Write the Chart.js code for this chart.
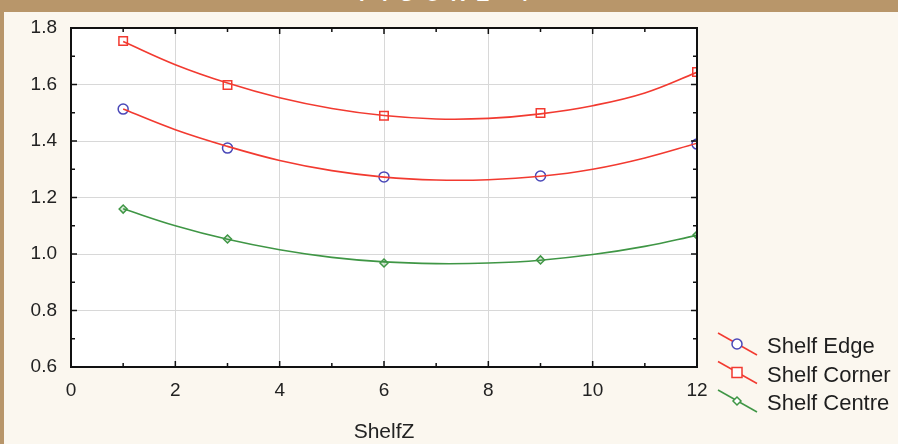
<!DOCTYPE html>
<html><head><meta charset="utf-8">
<script src="https://cdn.jsdelivr.net/npm/chart.js@4.4.0/dist/chart.umd.min.js"></script>
<style>
html,body{margin:0;padding:0;background:#FBF7EF;}
#wrap{position:relative;width:898px;height:444px;overflow:hidden;background:#FBF7EF;}
#hdr{position:absolute;left:0;top:0;width:898px;height:12px;background:#B8966A;overflow:hidden;z-index:2}
#hdr span{position:absolute;left:0;width:898px;text-align:center;top:-17px;line-height:20px;font:bold 20px "Liberation Sans",Arial,sans-serif;color:#fff;letter-spacing:11px;}
#lb{position:absolute;left:0;top:0;width:4px;height:444px;background:#B8966A;z-index:2}
canvas{position:absolute;left:0;top:0}
</style></head>
<body><div id="wrap"><div id="hdr"><span>FIGURE 4</span></div><div id="lb"></div><canvas id="c" width="898" height="444"></canvas></div>
<script>
const seriesNames=['Shelf Edge','Shelf Corner','Shelf Centre'];
const xValues=[1,3,6,9,12];
const edgeValues=[1.513,1.375,1.273,1.276,1.389];
const cornerValues=[1.754,1.598,1.489,1.499,1.644];
const centreValues=[1.159,1.053,0.968,0.979,1.067];
const curveX=[1,2,3,4,5,6,7,8,9,10,11,12];
const edgeCurve=[1.513,1.440,1.381,1.331,1.295,1.272,1.262,1.263,1.275,1.300,1.340,1.392];
const cornerCurve=[1.752,1.670,1.605,1.553,1.515,1.490,1.478,1.480,1.496,1.525,1.570,1.643];
const centreCurve=[1.160,1.100,1.052,1.015,0.988,0.972,0.966,0.968,0.978,0.998,1.027,1.066];
const xTicks=[0,2,4,6,8,10,12];
const yTicks=[0.6,0.8,1.0,1.2,1.4,1.6,1.8];
const xTitle='ShelfZ';

const RED='#F23A30', BLUE='#4A48B8', GREEN='#3F9645';
const FONT='"Liberation Sans", Arial, sans-serif';
const pts=(xs,ys)=>xs.map((x,i)=>({x,y:ys[i]}));

const curve=(d,c)=>({data:pts(curveX,d),showLine:true,borderColor:c,borderWidth:1.6,pointRadius:0,tension:0.4,fill:false,clip:0});
const marks=(d,c,style,r,bg)=>({data:pts(xValues,d),showLine:false,borderColor:c,backgroundColor:bg,pointStyle:style,pointRadius:r,pointBorderWidth:1.5,clip:0});

const bgPlugin={id:'bg',beforeDraw(ch){const {ctx,chartArea:a}=ch;ctx.save();ctx.fillStyle='#fff';ctx.fillRect(a.left,a.top,a.right-a.left,a.bottom-a.top);ctx.restore();}};
const framePlugin={id:'frame',afterDatasetsDraw(ch){
  const {ctx,chartArea:a,scales:{x,y}}=ch;
  ctx.save();ctx.strokeStyle='#111';ctx.lineWidth=2;
  ctx.strokeRect(a.left,a.top,a.right-a.left,a.bottom-a.top);
  ctx.lineWidth=1.5;ctx.beginPath();
  for(let v=0;v<=12;v++){const len=v%2===0?6:4;const p=x.getPixelForValue(v);
    ctx.moveTo(p,a.bottom);ctx.lineTo(p,a.bottom-len);ctx.moveTo(p,a.top);ctx.lineTo(p,a.top+len);}
  for(let i=0;i<=12;i++){const v=0.6+i*0.1;const len=i%2===0?6:4;const p=y.getPixelForValue(v);
    ctx.moveTo(a.left,p);ctx.lineTo(a.left+len,p);ctx.moveTo(a.right,p);ctx.lineTo(a.right-len,p);}
  ctx.stroke();ctx.restore();}};
const legendPlugin={id:'lg',afterDraw(ch){
  const ctx=ch.ctx;ctx.save();
  const rows=[{c:RED,m:BLUE,s:'circle'},{c:RED,m:RED,s:'rect'},{c:GREEN,m:GREEN,s:'diamond'}];
  rows.forEach((r,i)=>{const cy=346+i*28.5;
    ctx.strokeStyle=r.c;ctx.lineWidth=1.5;ctx.beginPath();ctx.moveTo(718,cy-13);ctx.lineTo(757,cy+9);ctx.stroke();
    const mx=737,my=cy-2;ctx.strokeStyle=r.m;ctx.fillStyle='#fff';ctx.beginPath();
    if(r.s==='circle'){ctx.arc(mx,my,5,0,Math.PI*2);}
    else if(r.s==='rect'){ctx.rect(mx-5,my-5,10,10);}
    else {ctx.moveTo(mx,my-4);ctx.lineTo(mx+4,my);ctx.lineTo(mx,my+4);ctx.lineTo(mx-4,my);ctx.closePath();}
    ctx.fill();ctx.stroke();
    ctx.fillStyle='#1e1e1e';ctx.font='22px '+FONT;ctx.textBaseline='middle';ctx.fillText(seriesNames[i],767,cy+1);
  });ctx.restore();}};

new Chart(document.getElementById('c'),{
  type:'scatter',
  data:{datasets:[
    curve(edgeCurve,RED),curve(cornerCurve,RED),curve(centreCurve,GREEN),
    marks(edgeValues,BLUE,'circle',5,'rgba(0,0,0,0)'),
    marks(cornerValues,RED,'rect',6,'rgba(0,0,0,0)'),
    marks(centreValues,GREEN,'rectRot',4,'rgba(180,210,180,0.5)')
  ]},
  options:{responsive:false,animation:false,
    layout:{padding:{left:0,right:201,top:28,bottom:0}},
    plugins:{legend:{display:false},tooltip:{enabled:false}},
    scales:{
      x:{type:'linear',min:0,max:12,
        afterBuildTicks:s=>{s.ticks=xTicks.map(v=>({value:v}));},
        afterFit:s=>{s.height=77;},
        ticks:{font:{family:FONT,size:19},color:'#222',padding:12,callback:v=>String(v)},
        grid:{color:'#d8d8d8',lineWidth:1,drawTicks:false},border:{display:false},
        title:{display:true,text:xTitle,font:{family:FONT,size:21},color:'#222',padding:{top:0,bottom:-1}}},
      y:{min:0.6,max:1.8,
        afterBuildTicks:s=>{s.ticks=yTicks.map(v=>({value:v}));},
        afterFit:s=>{s.width=71;},
        ticks:{font:{family:FONT,size:19},color:'#222',padding:14,callback:v=>Number(v).toFixed(1)},
        grid:{color:'#d8d8d8',lineWidth:1,drawTicks:false},border:{display:false}}
    }},
  plugins:[bgPlugin,framePlugin,legendPlugin]
});
</script></body></html>
